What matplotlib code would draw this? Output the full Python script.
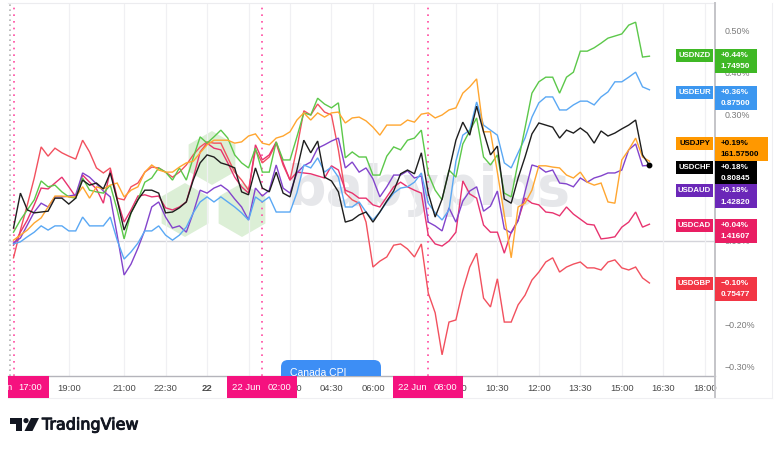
import numpy as np
import matplotlib
matplotlib.use("Agg")
import matplotlib.pyplot as plt
from matplotlib.patches import Rectangle, FancyBboxPatch, Polygon
from matplotlib.lines import Line2D
import matplotlib.transforms as mtransforms
import matplotlib.patheffects as pe

# ---------------- data (percent change, 15-minute bars from 21 Jun 17:00) -------------
usdnzd = [0.021, 0.050, 0.074, 0.098, 0.143, 0.129, 0.133, 0.117, 0.105, 0.102,
          0.150, 0.121, 0.117, 0.114, 0.133, 0.074, 0.005, 0.067, 0.098, 0.140,
          0.150, 0.174, 0.164, 0.145, 0.174, 0.145, 0.198, 0.248, 0.233, 0.248,
          0.264, 0.245, 0.205, 0.186, 0.174, 0.221, 0.164, 0.164, 0.236, 0.193,
          0.193, 0.248, 0.305, 0.300, 0.340, 0.326, 0.317, 0.329, 0.198, 0.212,
          0.200, 0.200, 0.157, 0.157, 0.202, 0.224, 0.217, 0.240, 0.245, 0.264,
          0.160, 0.121, 0.098, 0.169, 0.152, 0.231, 0.262, 0.293, 0.200, 0.181,
          0.205, 0.114, 0.105, 0.188, 0.269, 0.352, 0.379, 0.390, 0.390, 0.352,
          0.390, 0.402, 0.452, 0.452, 0.460, 0.471, 0.483, 0.488, 0.493, 0.514,
          0.521, 0.438, 0.440]
usdeur = [-0.007, -0.002, 0.010, 0.021, 0.036, 0.026, 0.036, 0.036, 0.024, 0.024,
          0.057, 0.036, 0.036, 0.036, 0.057, 0.002, -0.043, -0.026, -0.005, 0.024,
          0.024, 0.036, 0.014, 0.002, 0.014, 0.033, 0.067, 0.093, 0.105, 0.093,
          0.105, 0.093, 0.081, 0.067, 0.050, 0.105, 0.093, 0.105, 0.069, 0.069,
          0.069, 0.115, 0.181, 0.174, 0.198, 0.164, 0.176, 0.152, 0.081, 0.081,
          0.093, 0.069, 0.050, 0.069, 0.093, 0.114, 0.126, 0.129, 0.140, 0.162,
          0.090, 0.067, 0.050, 0.074, 0.190, 0.252, 0.264, 0.331, 0.276, 0.264,
          0.252, 0.186, 0.174, 0.210, 0.245, 0.295, 0.329, 0.343, 0.343, 0.312,
          0.312, 0.324, 0.333, 0.333, 0.324, 0.343, 0.355, 0.379, 0.379, 0.390,
          0.402, 0.367, 0.360]
usdjpy = [0.002, 0.014, 0.026, 0.043, 0.055, 0.081, 0.107, 0.107, 0.105, 0.105,
          0.129, 0.102, 0.129, 0.124, 0.133, 0.138, 0.105, 0.121, 0.129, 0.164,
          0.181, 0.169, 0.164, 0.164, 0.176, 0.186, 0.190, 0.210, 0.229, 0.240,
          0.240, 0.240, 0.233, 0.236, 0.250, 0.255, 0.233, 0.229, 0.245, 0.250,
          0.260, 0.288, 0.305, 0.288, 0.305, 0.295, 0.305, 0.307, 0.281, 0.293,
          0.295, 0.286, 0.271, 0.252, 0.276, 0.276, 0.276, 0.288, 0.283, 0.302,
          0.305, 0.293, 0.300, 0.312, 0.317, 0.352, 0.367, 0.386, 0.260, 0.260,
          0.164, 0.062, -0.040, 0.081, 0.090, 0.121, 0.179, 0.179, 0.176, 0.174,
          0.157, 0.150, 0.164, 0.140, 0.133, 0.138, 0.093, 0.090, 0.193, 0.217,
          0.245, 0.200, 0.190]
usdchf = [0.031, 0.114, 0.074, 0.067, 0.069, 0.071, 0.102, 0.102, 0.088, 0.102,
          0.145, 0.133, 0.138, 0.124, 0.162, 0.098, 0.026, 0.067, 0.098, 0.121,
          0.121, 0.114, 0.067, 0.069, 0.079, 0.093, 0.145, 0.186, 0.205, 0.200,
          0.186, 0.181, 0.174, 0.117, 0.110, 0.174, 0.126, 0.117, 0.164, 0.114,
          0.105, 0.169, 0.240, 0.210, 0.238, 0.152, 0.143, 0.117, 0.045, 0.050,
          0.062, 0.069, 0.045, 0.069, 0.095, 0.119, 0.160, 0.169, 0.160, 0.210,
          0.114, 0.057, 0.100, 0.167, 0.240, 0.283, 0.252, 0.321, 0.260, 0.205,
          0.226, 0.100, 0.090, 0.150, 0.200, 0.255, 0.281, 0.276, 0.271, 0.245,
          0.264, 0.257, 0.269, 0.257, 0.233, 0.262, 0.250, 0.257, 0.267, 0.276,
          0.288, 0.205, 0.180]
usdaud = [-0.005, 0.007, 0.038, 0.069, 0.090, 0.081, 0.105, 0.105, 0.107, 0.110,
          0.162, 0.152, 0.136, 0.119, 0.105, 0.014, -0.081, -0.055, -0.017, 0.026,
          0.081, 0.093, 0.057, 0.031, 0.036, 0.021, 0.067, 0.121, 0.114, 0.126,
          0.133, 0.121, 0.100, 0.081, 0.050, 0.126, 0.107, 0.121, 0.181, 0.126,
          0.114, 0.162, 0.179, 0.188, 0.221, 0.229, 0.238, 0.245, 0.174, 0.188,
          0.164, 0.174, 0.148, 0.105, 0.129, 0.157, 0.157, 0.167, 0.150, 0.155,
          0.045, 0.036, 0.024, 0.079, 0.045, 0.095, 0.119, 0.129, 0.071, 0.083,
          0.119, 0.029, 0.019, 0.048, 0.117, 0.181, 0.176, 0.164, 0.169, 0.138,
          0.136, 0.129, 0.150, 0.140, 0.150, 0.155, 0.162, 0.162, 0.169, 0.217,
          0.231, 0.179, 0.180]
usdcad = [-0.010, 0.021, 0.050, 0.086, 0.126, 0.124, 0.138, 0.152, 0.129, 0.105,
          0.157, 0.140, 0.124, 0.090, 0.169, 0.098, 0.045, 0.074, 0.107, 0.110,
          0.105, 0.107, 0.079, 0.074, 0.081, 0.093, 0.150, 0.212, 0.233, 0.221,
          0.217, 0.186, 0.152, 0.129, 0.114, 0.229, 0.193, 0.205, 0.236, 0.186,
          0.145, 0.164, 0.162, 0.160, 0.155, 0.150, 0.179, 0.169, 0.121, 0.114,
          0.102, 0.102, 0.086, 0.081, 0.105, 0.129, 0.140, 0.129, 0.121, 0.114,
          0.014, -0.007, -0.012, 0.000, 0.021, 0.143, 0.112, 0.102, 0.038, 0.021,
          0.021, -0.029, 0.021, 0.050, 0.102, 0.090, 0.086, 0.069, 0.067, 0.060,
          0.081, 0.064, 0.052, 0.040, 0.038, 0.005, 0.007, 0.010, 0.033, 0.045,
          0.069, 0.033, 0.040]
usdgbp = [-0.040, 0.026, 0.086, 0.150, 0.224, 0.202, 0.221, 0.210, 0.202, 0.195,
          0.240, 0.212, 0.174, 0.162, 0.174, 0.102, 0.098, 0.129, 0.138, 0.164,
          0.176, 0.174, 0.164, 0.152, 0.164, 0.181, 0.205, 0.224, 0.236, 0.233,
          0.233, 0.198, 0.164, 0.145, 0.121, 0.217, 0.186, 0.200, 0.233, 0.181,
          0.145, 0.221, 0.310, 0.300, 0.326, 0.307, 0.300, 0.217, 0.114, 0.098,
          0.090, 0.045, -0.062, -0.048, -0.038, -0.010, -0.007, -0.019, -0.038, -0.007,
          -0.124, -0.171, -0.271, -0.193, -0.188, -0.117, -0.062, -0.029, -0.136, -0.157,
          -0.090, -0.193, -0.193, -0.152, -0.129, -0.093, -0.074, -0.050, -0.040, -0.074,
          -0.062, -0.055, -0.050, -0.064, -0.064, -0.069, -0.050, -0.045, -0.064, -0.069,
          -0.062, -0.088, -0.100]

symbols = ["USDNZD", "USDEUR", "USDJPY", "USDCHF", "USDAUD", "USDCAD", "USDGBP"]
last_pct = ["+0.44%", "+0.36%", "+0.19%", "+0.18%", "+0.18%", "+0.04%", "\u22120.10%"]
last_price = ["1.74950", "0.87500", "161.57500", "0.80845", "1.42820", "1.41607", "0.75477"]

tick_pos = [8, 16, 22, 28, 34, 40, 46, 52, 58, 64, 70, 76, 82, 88, 94, 100]
tick_lab = ["19:00", "21:00", "22:30", "22", "", "03:00", "04:30", "06:00",
            "", "09:00", "10:30", "12:00", "13:30", "15:00", "16:30", "18:00"]
price_ticks = [0.5, 0.4, 0.3, 0.0, -0.2, -0.3]

event_pos = [0, 36, 60]
event_day = ["21 Jun", "22 Jun", "22 Jun"]
event_time = ["17:00", "02:00", "08:00"]

# ---------------- styling ----------------
line_col = {"USDNZD": "#5cc84a", "USDEUR": "#5aa8f4", "USDJPY": "#ffa630",
            "USDCHF": "#1e1e1e", "USDAUD": "#8344cc", "USDCAD": "#e8336f",
            "USDGBP": "#f2505e"}
tag_col = {"USDNZD": "#3fb825", "USDEUR": "#3c97f0", "USDJPY": "#ff9800",
           "USDCHF": "#000000", "USDAUD": "#6b27b8", "USDCAD": "#e91e63",
           "USDGBP": "#f23645"}
tag_txt = {s: "white" for s in symbols}
tag_txt["USDJPY"] = "black"
tag_top = [49, 86, 137, 161, 184, 219, 277]
tag_vw = [42, 42, 53, 42, 42, 42, 42]

W, H = 780, 450
def P(x, y):
    return (x / W, 1 - y / H)

FONT = "Liberation Sans"
plt.rcParams["font.family"] = [FONT, "DejaVu Sans"]

fig = plt.figure(figsize=(7.8, 4.5), dpi=100)
fig.patch.set_facecolor("white")
L, R, T, B = 8, 715, 3, 376
ax = fig.add_axes([L / W, 1 - B / H, (R - L) / W, (B - T) / H])
ax.set_xlim((L - 13.5) / 6.9125, (R - 13.5) / 6.9125)
ax.set_ylim((241 - B) / 420, (241 - T) / 420)

# watermark (behind lines)
hex_centers = [(212, 158), (185, 210), (242, 210)]
for cx, cy in hex_centers:
    pts = [P(cx + 29 * np.cos(np.radians(90 + 60 * k)), cy - 29 * np.sin(np.radians(90 + 60 * k)))
           for k in range(6)]
    ax.add_patch(Polygon(pts, closed=True, transform=fig.transFigure, facecolor="#dcefd6",
                         edgecolor="white", lw=2.5, zorder=0.3))
ax.text(*P(428, 190), "babypips", transform=fig.transFigure, ha="center", va="center",
        fontsize=40, fontweight="bold", color="#e6e7ea", family="DejaVu Sans", zorder=0.4)

idx = np.arange(len(usdnzd))
series = {"USDNZD": usdnzd, "USDEUR": usdeur, "USDJPY": usdjpy, "USDCHF": usdchf,
          "USDAUD": usdaud, "USDCAD": usdcad, "USDGBP": usdgbp}
order = ["USDGBP", "USDCAD", "USDAUD", "USDEUR", "USDNZD", "USDJPY", "USDCHF"]
for s in order:
    ax.plot(idx, series[s], color=line_col[s], lw=1.0, zorder=2, solid_joinstyle="miter")
ax.plot(idx[-1], usdchf[-1], "o", ms=3.2, color="black", zorder=3)

ax.axhline(0, color="#d4d4da", lw=1.0, zorder=1)
for i in event_pos:
    ax.axvline(i, color="#ff4aa0", lw=1.2, ls=(0, (1, 3)), zorder=1.5)
ax.axvline(-0.5, color="#b4b4b4", lw=1.2, ls=(0, (1, 2)), zorder=1.5)

ax.set_xticks(tick_pos)
ax.set_xticklabels(tick_lab)
ax.tick_params(axis="x", length=0, pad=6, labelsize=6.8, colors="#4a4a4a")
ax.get_xticklabels()[3].set_fontweight("bold")
ax.grid(axis="x", color="#f0f0f3", lw=0.9, zorder=0)

ax.yaxis.tick_right()
ax.set_yticks(price_ticks)
ax.set_yticklabels([("\u2212" if v < 0 else "") + f"{abs(v):.2f}%" for v in price_ticks])
ax.tick_params(axis="y", length=0, pad=7, labelsize=6.4, colors="#7a7a7a")

for sp in ["left", "right"]:
    ax.spines[sp].set_visible(False)
ax.spines["top"].set_color("#ececef")
ax.spines["bottom"].set_color("#b4b4bb")
ax.spines["bottom"].set_linewidth(1.0)

# Canada CPI event box (clipped at the axis)
cpi = FancyBboxPatch(P(281, 385), 100 / W, 25 / H,
                     boxstyle="round,pad=0,rounding_size=0.009", mutation_aspect=W / H,
                     transform=fig.transFigure, facecolor="#3d8ef5", edgecolor="none", zorder=4)
ax.add_patch(cpi)
ax.text(*P(290, 368), "Canada CPI", transform=fig.transFigure, ha="left", va="top",
        fontsize=7.5, color="white", zorder=5, clip_on=True)

# event marker boxes on time axis
clip_rect = Rectangle(P(L, 400), (R - L) / W, 26 / H, transform=fig.transFigure)
btrans = mtransforms.blended_transform_factory(ax.transData, fig.transFigure)
pxu = 1 / 6.9125
for i, d, t in zip(event_pos, event_day, event_time):
    r = Rectangle((i - 35 * pxu, 1 - 398 / H), 70 * pxu, 22 / H, transform=btrans,
                  facecolor="#f5127f", edgecolor="none", zorder=10)
    fig.add_artist(r)
    r.set_clip_path(clip_rect)
    for dx, s in [(-16, d), (17, t)]:
        if i + dx * pxu < (L - 13.5) / 6.9125:
            continue
        tx = fig.text(0, 1 - 387.5 / H, s, ha="center", va="center", fontsize=6.8,
                      color="white", zorder=11)
        tx.set_transform(btrans)
        tx.set_x(i + dx * pxu)
        tx.set_clip_path(clip_rect)
# fragment of the clipped left date label
fig.text(*P(9.5, 387.5), "n", ha="center", va="center", fontsize=6.8, color="white", zorder=11)

# frame lines
fig.add_artist(Line2D([715 / W, 715 / W], [1 - 3 / H, 1 - 398 / H], color="#c4c4c8", lw=1.4,
                      transform=fig.transFigure, zorder=6))
fig.add_artist(Line2D([L / W, 772 / W], [1 - 398 / H, 1 - 398 / H], color="#efeff2", lw=0.8,
                      transform=fig.transFigure, zorder=6))
fig.add_artist(Line2D([772 / W, 772 / W], [1 - 3 / H, 1 - 398 / H], color="#efeff2", lw=0.8,
                      transform=fig.transFigure, zorder=6))

# last-value tags on price axis
for s, pct, pr, top, vw in zip(symbols, last_pct, last_price, tag_top, tag_vw):
    c = tag_col[s]
    tc = tag_txt[s]
    fig.add_artist(Rectangle(P(676, top + 13), 37 / W, 13 / H, transform=fig.transFigure,
                             facecolor=c, edgecolor="none", zorder=12))
    fig.add_artist(Rectangle(P(715, top + 24), vw / W, 24 / H, transform=fig.transFigure,
                             facecolor=c, edgecolor="none", zorder=12))
    fig.text(*P(694.5, top + 6.8), s, ha="center", va="center", fontsize=5.6, color=tc,
             fontweight="bold", zorder=13)
    fig.text(*P(721, top + 6.8), pct, ha="left", va="center", fontsize=5.9, color=tc,
             fontweight="bold", zorder=13)
    fig.text(*P(721, top + 18), pr, ha="left", va="center", fontsize=5.9, color=tc,
             fontweight="bold", zorder=13)

# TradingView logo
fig.add_artist(Polygon([P(10, 418), P(21.5, 418), P(21.5, 431), P(16, 431), P(16, 423.5), P(10, 423.5)],
                       closed=True, transform=fig.transFigure, facecolor="#131722", edgecolor="none"))
fig.add_artist(Polygon([P(31, 418), P(39, 418), P(32.5, 431), P(24.5, 431)],
                       closed=True, transform=fig.transFigure, facecolor="#131722", edgecolor="none"))
th = np.linspace(0, 2 * np.pi, 24)
fig.add_artist(Polygon([P(26 + 2.6 * np.cos(a), 420.6 + 2.6 * np.sin(a)) for a in th],
                       closed=True, transform=fig.transFigure, facecolor="#131722", edgecolor="none"))
fig.text(*P(42, 425), "TradingView", ha="left", va="center", fontsize=11.5, color="#131722",
         family="DejaVu Sans",
         path_effects=[pe.withStroke(linewidth=0.7, foreground="#131722")])

fig.savefig("out.png", dpi=100, facecolor="white")
